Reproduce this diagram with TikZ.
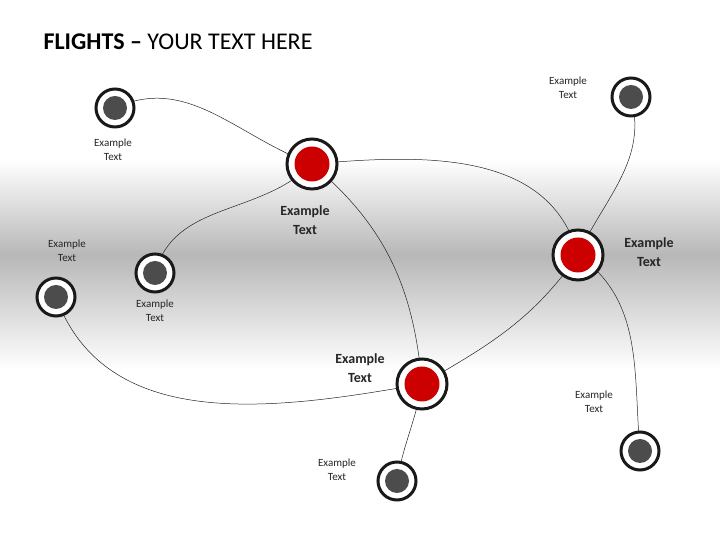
\documentclass[tikz,border=0pt]{standalone}
\usepackage{fontspec}
\setmainfont{Carlito}
\begin{document}
\begin{tikzpicture}[x=1pt,y=1pt,
  hub/.style={circle,draw=black!90,line width=3pt,fill=white,minimum size=50pt,inner sep=0pt,
    path picture={\fill[red!80!black] (path picture bounding box.center) circle (17.5pt);}},
  leaf/.style={circle,draw=black!90,line width=3pt,fill=white,minimum size=38pt,inner sep=0pt,
    path picture={\fill[black!70] (path picture bounding box.center) circle (12pt);}},
  lnk/.style={draw=black!85,line width=0.5pt},
  sm/.style={font=\fontsize{11}{14}\selectfont,align=center,text=black!85},
  bg/.style={font=\bfseries\fontsize{14}{19}\selectfont,align=center,text=black!85}]
\useasboundingbox (0,0) rectangle (720,540);
\fill[white] (0,0) rectangle (720,540);
\shade[top color=white,bottom color=black!28] (0,285) rectangle (720,380);
\shade[top color=black!28,bottom color=white] (0,170) rectangle (720,285);
\node[anchor=west,font=\fontsize{24}{28}\selectfont] (title) at (40,498) {\textbf{FLIGHTS --} YOUR TEXT HERE};
\coordinate (G1) at (115,432); \coordinate (R1) at (312,376); \coordinate (G2) at (631,443);
\coordinate (R2) at (578,285); \coordinate (G3) at (155,267); \coordinate (G4) at (56,243);
\coordinate (R3) at (422,156); \coordinate (G5) at (397,59); \coordinate (G6) at (640,89);
\draw[lnk] (G1) to[out=25,in=160] (R1);
\draw[lnk] (R1) to[out=5,in=105] (R2);
\draw[lnk] (G2) to[out=-75,in=65] (R2);
\draw[lnk] (R1) to[out=225,in=75] (G3);
\draw[lnk] (R1) to[out=-40,in=95] (R3);
\draw[lnk] (R2) to[out=235,in=30] (R3);
\draw[lnk] (R2) to[out=-35,in=95] (G6);
\draw[lnk] (G4) to[out=-70,in=190] (R3);
\draw[lnk] (R3) to[out=-100,in=80] (G5);
\node[leaf] (g1) at (G1) {}; \node[hub] (r1) at (R1) {}; \node[leaf] (g2) at (G2) {};
\node[hub] (r2) at (R2) {}; \node[leaf] (g3) at (G3) {}; \node[leaf] (g4) at (G4) {};
\node[hub] (r3) at (R3) {}; \node[leaf] (g5) at (G5) {}; \node[leaf] (g6) at (G6) {};
\node[sm] (l1) at (568,452) {Example\\Text};
\node[sm] (l2) at (113,390) {Example\\Text};
\node[sm] (l3) at (67,289) {Example\\Text};
\node[sm] (l4) at (155,229) {Example\\Text};
\node[sm] (l5) at (594,138) {Example\\Text};
\node[sm] (l6) at (337,70) {Example\\Text};
\node[bg] (b1) at (305,320) {Example\\Text};
\node[bg] (b2) at (649,288) {Example\\Text};
\node[bg] (b3) at (360,172) {Example\\Text};
\end{tikzpicture}
\end{document}
